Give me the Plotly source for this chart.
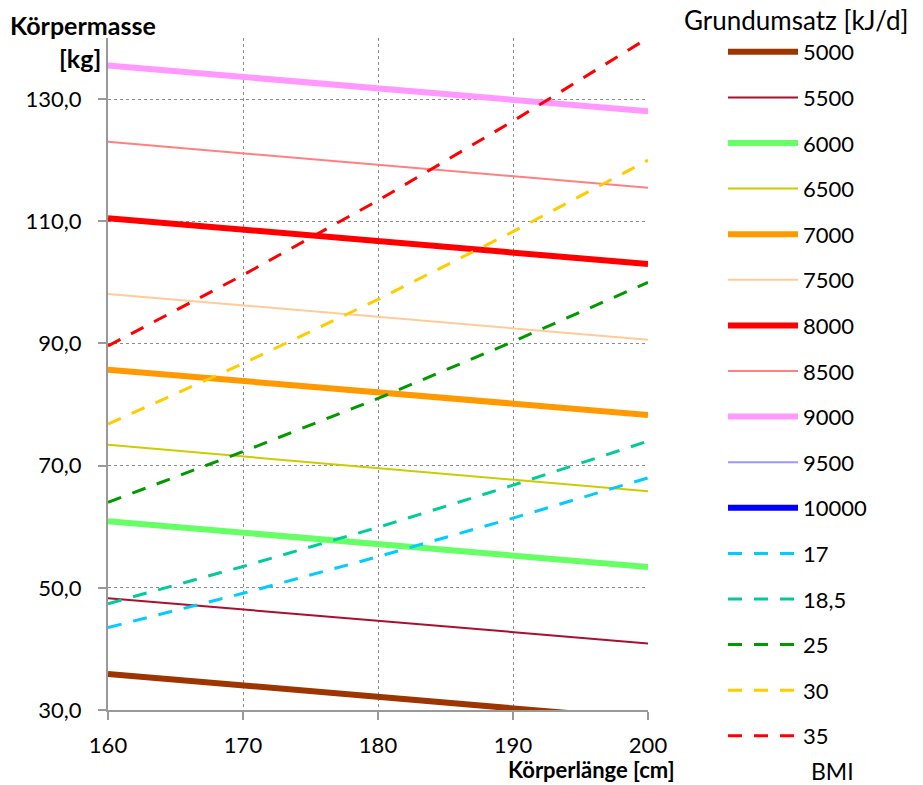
import plotly.graph_objects as go

# Data
heights = [160, 170, 180, 190, 200]
bmr_levels = ["5000", "5500", "6000", "6500", "7000", "7500", "8000", "8500", "9000", "9500", "10000"]
bmr_x = [160, 200]
bmr_mass = {
    "5000": [35.9, 28.4],
    "5500": [48.3, 40.9],
    "6000": [60.9, 53.4],
    "6500": [73.4, 65.8],
    "7000": [85.7, 78.3],
    "7500": [98.1, 90.6],
    "8000": [110.5, 103.0],
    "8500": [123.0, 115.5],
    "9000": [135.5, 128.0],
    "9500": [148.0, 140.5],
    "10000": [160.4, 152.9],
}
bmi_levels = ["17", "18,5", "25", "30", "35"]
bmi_mass = {
    "17": [43.5, 49.1, 55.1, 61.4, 68.0],
    "18,5": [47.4, 53.5, 59.9, 66.8, 74.0],
    "25": [64.0, 72.3, 81.0, 90.3, 100.0],
    "30": [76.8, 86.7, 97.2, 108.3, 120.0],
    "35": [89.6, 101.2, 113.4, 126.4, 140.0],
}

bmr_colors = ["#9C3500", "#A8102E", "#66FF66", "#CCCC00", "#FF9900", "#FFCC99",
              "#FF0000", "#FF8080", "#FF99FF", "#9999FF", "#0000FF"]
bmr_widths = [6, 2, 6, 2, 6, 2, 6, 2, 6, 2, 6]
bmi_colors = ["#00CCFF", "#00CC99", "#009900", "#FFCC00", "#FF0000"]

FONT = "Lato, Carlito, Calibri, sans-serif"

fig = go.Figure()
for i, k in enumerate(bmr_levels):
    fig.add_trace(go.Scatter(x=bmr_x, y=bmr_mass[k], mode="lines", name=k,
                             legendgroup=k,
                             line=dict(color=bmr_colors[i], width=bmr_widths[i])))
for i, k in enumerate(bmi_levels):
    fig.add_trace(go.Scatter(x=heights, y=bmi_mass[k], mode="lines", name=k,
                             legendgroup="b" + k,
                             line=dict(color=bmi_colors[i], width=3, dash="14px,12px")))

L, R, T, B = 108, 648, 38, 710
W, H = 923, 785
pw, ph = R - L, B - T

def px(xp):
    return (xp - L) / pw

def py(yp):
    return (B - yp) / ph

fig.update_layout(
    width=W, height=H,
    margin=dict(l=L, r=W - R, t=T, b=H - B),
    paper_bgcolor="white", plot_bgcolor="white",
    font=dict(family=FONT, size=22, color="black"),
    separators=",.",
    showlegend=True,
    legend=dict(x=px(723), xanchor="left", y=py(31), yanchor="top",
                traceorder="grouped", tracegroupgap=14, itemwidth=70,
                maxheight=780,
                font=dict(size=22), bgcolor="rgba(0,0,0,0)"),
    xaxis=dict(range=[160, 200], tick0=160, dtick=10, showgrid=True,
               gridcolor="#8c8c8c", griddash="dot", gridwidth=1,
               showline=True, linecolor="#999999", linewidth=2,
               ticks="outside", ticklen=8, tickcolor="#999999", tickwidth=2,
               ticklabelstandoff=7,
               zeroline=False, tickfont=dict(size=22)),
    yaxis=dict(range=[30, 140], tick0=30, dtick=20, tickformat=".1f",
               showgrid=True, gridcolor="#8c8c8c", griddash="dot", gridwidth=1,
               showline=True, linecolor="#999999", linewidth=2,
               ticks="outside", ticklen=8, tickcolor="#999999", tickwidth=2,
               ticklabelstandoff=12,
               zeroline=False, tickfont=dict(size=22)),
    annotations=[
        dict(text="<b>Körpermasse</b>", xref="paper", yref="paper", x=px(8), y=py(25),
             xanchor="left", yanchor="middle", showarrow=False, font=dict(size=25)),
        dict(text="<b>[kg]</b>", xref="paper", yref="paper", x=px(103), y=py(58),
             xanchor="right", yanchor="middle", showarrow=False, font=dict(size=25)),
        dict(text="<b>Körperlänge [cm]</b>", xref="paper", yref="paper", x=px(591), y=py(770),
             xanchor="center", yanchor="middle", showarrow=False, font=dict(size=22)),
        dict(text="Grundumsatz [kJ/d]", xref="paper", yref="paper", x=px(682), y=py(20),
             xanchor="left", yanchor="middle", showarrow=False, font=dict(size=26)),
        dict(text="BMI", xref="paper", yref="paper", x=px(832), y=py(771),
             xanchor="center", yanchor="middle", showarrow=False, font=dict(size=23)),
    ],
)

fig.write_html("out.html",
               config={"displayModeBar": False},
               post_script="document.body.style.margin='0';document.body.style.overflow='hidden';")
